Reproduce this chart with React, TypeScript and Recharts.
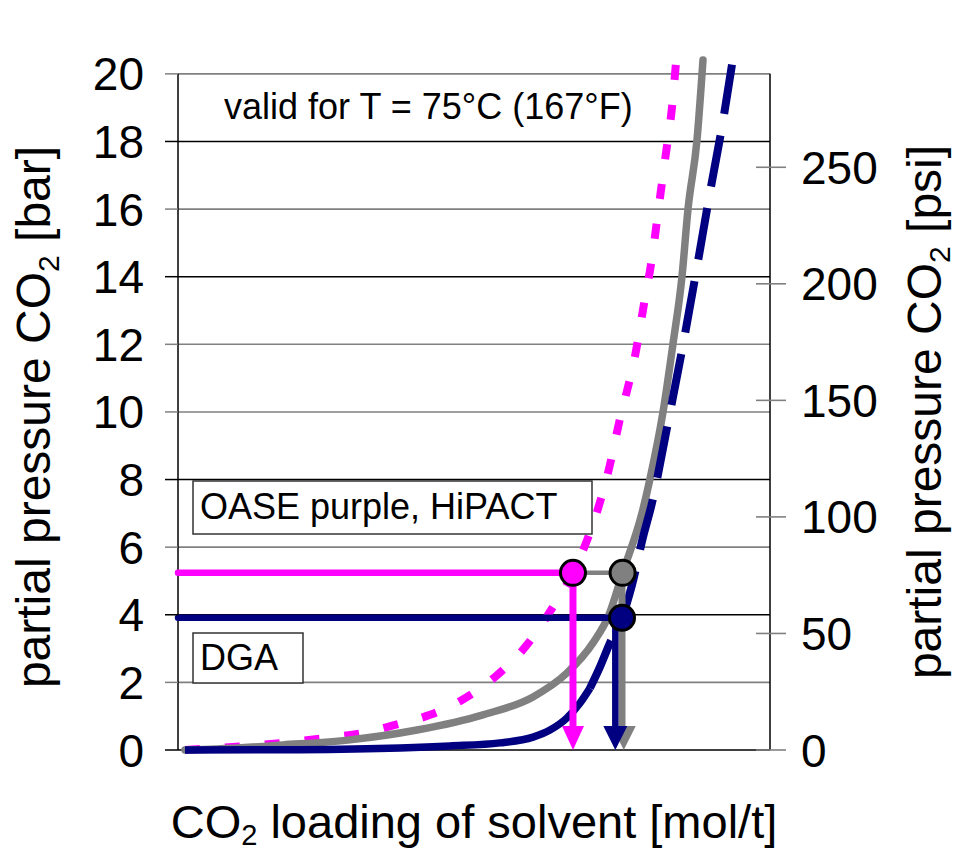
import React from 'react';
import { LineChart, Line, XAxis, YAxis, CartesianGrid, ReferenceLine } from 'recharts';

const FONT = "'Liberation Sans', Arial, Helvetica, sans-serif";

// Y axis ticks
const barTicks = [0, 2, 4, 6, 8, 10, 12, 14, 16, 18, 20];
const psiTicks = [0, 50, 100, 150, 200, 250];
const blackGridValues = [0, 4, 8, 14, 18];

// Curves (x = CO2 loading, arbitrary 0..100 scale; y = partial pressure in bar)
const magentaX = [1.18, 13.85, 19.43, 25.17, 31.08, 36.66, 42.57, 47.97, 53.55, 58.95, 63.34, 66.72, 68.24, 70.44, 72.64, 74.49, 77.36, 78.72, 80.07, 81.25, 82.43, 83.45, 84.12];
const magentaY = [0, 0.15, 0.24, 0.36, 0.5, 0.74, 1.04, 1.48, 2.16, 3.11, 4.23, 5.24, 5.83, 6.86, 8.2, 9.67, 11.8, 13.2, 14.56, 16.12, 17.66, 19.02, 20.33];

const grayX = [1.18, 6.59, 17.74, 29.05, 40.37, 51.52, 59.97, 65.71, 70.1, 72.8, 75.1, 78.38, 79.73, 81.93, 83.61, 85.14, 86.15, 87.67, 88.68];
const grayY = [0, 0.03, 0.15, 0.3, 0.59, 1.04, 1.57, 2.28, 3.17, 4.0, 5.24, 7.01, 8.02, 10.0, 12.01, 14.02, 16.0, 18.05, 20.41];

const navyX = [1.18, 20.6, 37.5, 45.95, 54.39, 59.97, 62.84, 65.71, 67.91, 69.59, 71.28, 72.97, 75.0, 76.69, 78.55, 80.07, 82.43, 85.14, 87.67, 90.03, 91.89, 93.58];
const navyY = [0, 0.01, 0.06, 0.12, 0.21, 0.38, 0.59, 0.95, 1.39, 1.83, 2.46, 3.17, 3.91, 4.88, 6.3, 7.31, 9.38, 11.83, 14.29, 16.66, 18.43, 20.27];
const navySolidCount = 10; // first points drawn nearly solid

// Operating points
const oaseLoading = 66.72;
const oasePressure = 5.24;
const hipactLoading = 75.1;
const hipactArrowLoading = 75.0;
const dgaLoading = 75.0;
const dgaArrowLoading = 73.87;
const dgaPressure = 3.91;
const arrowBaseY = 0.55;

const pts = (xs: number[], ys: number[]) => xs.map((x, i) => ({ x, y: ys[i] }));

const magentaData = pts(magentaX, magentaY);
const grayData = pts(grayX, grayY);
const navyLowData = pts(navyX.slice(0, navySolidCount), navyY.slice(0, navySolidCount));
const navyHighData = pts(navyX.slice(navySolidCount - 1), navyY.slice(navySolidCount - 1));

const CHART_W = 956;
const CHART_H = 853;
const PLOT_TOP = 60;
const PLOT_BOTTOM = 750;
const BAR_MAX = 20.41;
const PSI_MAX = BAR_MAX * 14.5038;
const PX_PER_BAR = (PLOT_BOTTOM - PLOT_TOP) / BAR_MAX;
const psiRangeData = [{ x: 0, y: 0 }, { x: 100, y: PSI_MAX }];

const gridLine = (props: any) => {
  const { x1, x2, y1, y2 } = props;
  const v = (PLOT_BOTTOM - y1) / PX_PER_BAR;
  const r = Math.round(v);
  if (Math.abs(v - r) > 0.2 || r > 20) return <g key={props.key} />;
  const black = blackGridValues.includes(r);
  return (
    <line key={props.key} x1={x1} x2={x2} y1={y1} y2={y2} stroke={black ? '#000' : '#808080'} strokeWidth={black ? 1.4 : 1.6} />
  );
};

const LeftTick = (props: any) => {
  const { x, y, payload } = props;
  const v = payload.value;
  const black = blackGridValues.includes(v);
  return (
    <g>
      <line x1={x - 13} x2={x} y1={y} y2={y} stroke={black ? '#000' : '#808080'} strokeWidth={1.5} />
      <text x={x - 34} y={y} dy="0.36em" textAnchor="end" fontSize={46} fontFamily={FONT} fill="#000">{v}</text>
    </g>
  );
};

const RightTick = (props: any) => {
  const { x, y, payload } = props;
  return (
    <g>
      <line x1={x - 14} x2={x + 16} y1={y} y2={y} stroke="#808080" strokeWidth={1.6} />
      <text x={x + 31} y={y} dy="0.36em" textAnchor="start" fontSize={46} fontFamily={FONT} fill="#000">{payload.value}</text>
    </g>
  );
};

const pointDot = (fill: string) => (p: any) => (
  <circle key={`pt-${p.index}-${fill}`} cx={p.cx} cy={p.cy} r={12.5} fill={fill} stroke="#000" strokeWidth={3} />
);

const headDot = (fill: string, w: number, h: number) => (p: any) => (
  <path key={`hd-${p.index}-${fill}`} d={`M${p.cx - w / 2},${p.cy - h} L${p.cx + w / 2},${p.cy - h} L${p.cx},${p.cy} Z`} fill={fill} stroke="none" />
);

export default function App() {
  return (
    <div style={{ position: 'absolute', left: 0, top: 0, width: CHART_W, height: CHART_H, background: '#fff' }}>
      <LineChart width={CHART_W} height={CHART_H} margin={{ top: PLOT_TOP, right: 0, bottom: CHART_H - PLOT_BOTTOM, left: 0 }}>
        <CartesianGrid yAxisId="bar" vertical={false} horizontal={gridLine} syncWithTicks />
        <XAxis type="number" dataKey="x" domain={[0, 100]} hide />
        <YAxis
          yAxisId="bar"
          orientation="left"
          type="number"
          domain={[0, BAR_MAX]}
          ticks={barTicks}
          interval={0}
          width={178}
          axisLine={false}
          tickLine={false}
          tickSize={0}
          tickMargin={0}
          tick={(p: any) => <LeftTick {...p} />}
        />
        <YAxis
          yAxisId="psi"
          orientation="right"
          type="number"
          domain={[0, PSI_MAX]}
          ticks={psiTicks}
          interval={0}
          width={CHART_W - 770}
          axisLine={false}
          tickLine={false}
          tickSize={0}
          tickMargin={0}
          tick={(p: any) => <RightTick {...p} />}
        />
        <ReferenceLine yAxisId="bar" segment={[{ x: 0, y: 0 }, { x: 0, y: 20 }]} stroke="#000" strokeWidth={1.5} />
        <ReferenceLine yAxisId="bar" segment={[{ x: 100, y: 0 }, { x: 100, y: 20 }]} stroke="#000" strokeWidth={1.5} />

        {/* invisible series that binds the psi axis */}
        <Line yAxisId="psi" data={psiRangeData} dataKey="y" stroke="none" dot={false} activeDot={false} isAnimationActive={false} />

        <Line yAxisId="bar" data={magentaData} dataKey="y" type="monotone" stroke="#FF00FF" strokeWidth={8} strokeDasharray="15 25" dot={false} activeDot={false} isAnimationActive={false} />
        <Line yAxisId="bar" data={grayData} dataKey="y" type="monotone" stroke="#808080" strokeWidth={7.5} strokeLinecap="round" dot={false} activeDot={false} isAnimationActive={false} />
        <Line yAxisId="bar" data={navyLowData} dataKey="y" type="monotone" stroke="#000080" strokeWidth={7.5} dot={false} activeDot={false} isAnimationActive={false} />
        <Line yAxisId="bar" data={navyHighData} dataKey="y" type="monotone" stroke="#000080" strokeWidth={8} strokeDasharray="52 22" dot={false} activeDot={false} isAnimationActive={false} />

        {/* horizontal guide lines */}
        <Line yAxisId="bar" data={[{ x: 0, y: oasePressure }, { x: oaseLoading, y: oasePressure }]} dataKey="y" type="linear" stroke="#FF00FF" strokeWidth={6.5} strokeLinecap="round" dot={false} activeDot={false} isAnimationActive={false} />
        <Line yAxisId="bar" data={[{ x: oaseLoading, y: oasePressure }, { x: hipactLoading, y: oasePressure }]} dataKey="y" type="linear" stroke="#808080" strokeWidth={4.5} dot={false} activeDot={false} isAnimationActive={false} />
        <Line yAxisId="bar" data={[{ x: 0, y: dgaPressure }, { x: dgaLoading, y: dgaPressure }]} dataKey="y" type="linear" stroke="#000080" strokeWidth={6.5} strokeLinecap="round" dot={false} activeDot={false} isAnimationActive={false} />

        {/* operating points */}
        <Line yAxisId="bar" data={[{ x: dgaLoading, y: dgaPressure }]} dataKey="y" stroke="none" dot={pointDot('#000080')} activeDot={false} isAnimationActive={false} />
        <Line yAxisId="bar" data={[{ x: oaseLoading, y: oasePressure }]} dataKey="y" stroke="none" dot={pointDot('#FF00FF')} activeDot={false} isAnimationActive={false} />
        <Line yAxisId="bar" data={[{ x: hipactLoading, y: oasePressure }]} dataKey="y" stroke="none" dot={pointDot('#808080')} activeDot={false} isAnimationActive={false} />

        {/* arrows */}
        <Line yAxisId="bar" data={[{ x: hipactArrowLoading, y: oasePressure }, { x: hipactArrowLoading, y: arrowBaseY }]} dataKey="y" type="linear" stroke="#808080" strokeWidth={7} dot={false} activeDot={false} isAnimationActive={false} />
        <Line yAxisId="bar" data={[{ x: hipactArrowLoading + 0.3, y: 0 }]} dataKey="y" stroke="none" dot={headDot('#808080', 24, 24)} activeDot={false} isAnimationActive={false} />
        <Line yAxisId="bar" data={[{ x: dgaArrowLoading, y: dgaPressure - 0.2 }, { x: dgaArrowLoading, y: arrowBaseY }]} dataKey="y" type="linear" stroke="#000080" strokeWidth={6.5} dot={false} activeDot={false} isAnimationActive={false} />
        <Line yAxisId="bar" data={[{ x: dgaArrowLoading, y: 0 }]} dataKey="y" stroke="none" dot={headDot('#000080', 24, 24)} activeDot={false} isAnimationActive={false} />
        <Line yAxisId="bar" data={[{ x: oaseLoading, y: oasePressure }, { x: oaseLoading, y: arrowBaseY }]} dataKey="y" type="linear" stroke="#FF00FF" strokeWidth={7} dot={false} activeDot={false} isAnimationActive={false} />
        <Line yAxisId="bar" data={[{ x: oaseLoading, y: 0 }]} dataKey="y" stroke="none" dot={headDot('#FF00FF', 22, 24)} activeDot={false} isAnimationActive={false} />
      </LineChart>

      <svg width={CHART_W} height={CHART_H} style={{ position: 'absolute', left: 0, top: 0, pointerEvents: 'none' }} fontFamily={FONT}>
        <text x={224} y={119} fontSize={36} fill="#000">valid for T = 75°C (167°F)</text>

        <rect x={193} y={481} width={399} height={53} fill="#fff" stroke="#333" strokeWidth={1.5} />
        <text x={200} y={519} fontSize={36} fill="#000">OASE purple, HiPACT</text>

        <rect x={193} y={633} width={110} height={50} fill="#fff" stroke="#333" strokeWidth={1.5} />
        <text x={200} y={670} fontSize={36} fill="#000">DGA</text>

        <text transform="translate(50,417) rotate(-90)" textAnchor="middle" fontSize={48} fill="#000">
          <tspan>partial pressure CO</tspan>
          <tspan fontSize={30} dy={9}>2</tspan>
          <tspan dy={-9}> [bar]</tspan>
        </text>

        <text transform="translate(941,412) rotate(-90)" textAnchor="middle" fontSize={48} fill="#000">
          <tspan>partial pressure CO</tspan>
          <tspan fontSize={30} dy={9}>2</tspan>
          <tspan dy={-9}> [psi]</tspan>
        </text>

        <text x={474} y={838} textAnchor="middle" fontSize={47} fill="#000">
          <tspan>CO</tspan>
          <tspan fontSize={29} dy={7}>2</tspan>
          <tspan dy={-7}> loading of solvent [mol/t]</tspan>
        </text>
      </svg>
    </div>
  );
}
